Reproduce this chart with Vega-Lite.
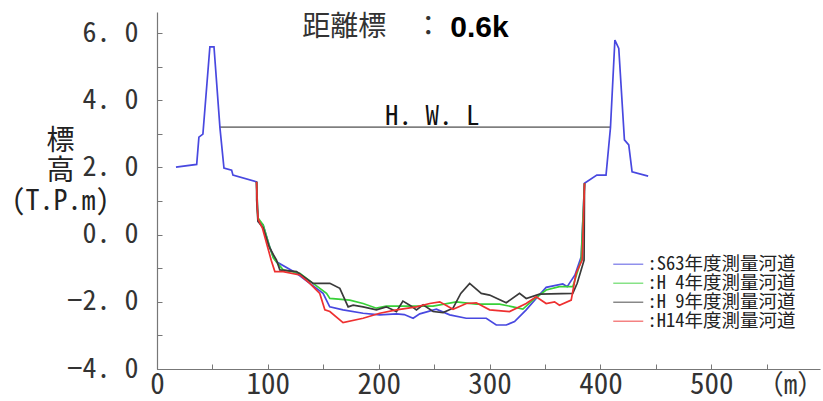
{
  "$schema": "https://vega.github.io/schema/vega-lite/v6.json",
  "width": 663,
  "height": 357,
  "autosize": {"type": "none"},
  "padding": {"left": 157, "top": 12, "right": 3, "bottom": 32},
  "background": "white",
  "config": {
    "view": {"stroke": null},
    "font": "Noto Sans Mono CJK JP, Noto Sans CJK JP",
    "legend": {
      "orient": "none", "legendX": 462, "legendY": 243, "title": null,
      "symbolType": "M-2,0H2", "symbolSize": 225, "symbolStrokeWidth": 1.5, "symbolOpacity": 0.6,
      "labelFont": "Noto Sans Mono CJK JP, Noto Sans CJK JP", "labelFontSize": 18.5, "labelColor": "#222",
      "labelOffset": 10, "rowPadding": -1.5, "labelLimit": 300
    }
  },
  "datasets": {
    "sections": [
      {"s": "S63年度測量河道", "x": 17.1, "y": 2.01},
      {"s": "S63年度測量河道", "x": 35.8, "y": 2.09},
      {"s": "S63年度測量河道", "x": 37.8, "y": 2.90},
      {"s": "S63年度測量河道", "x": 41.4, "y": 2.99},
      {"s": "S63年度測量河道", "x": 47.7, "y": 5.59},
      {"s": "S63年度測量河道", "x": 51.4, "y": 5.59},
      {"s": "S63年度測量河道", "x": 56.8, "y": 3.17},
      {"s": "S63年度測量河道", "x": 60.4, "y": 1.98},
      {"s": "S63年度測量河道", "x": 67.3, "y": 1.92},
      {"s": "S63年度測量河道", "x": 68.5, "y": 1.77},
      {"s": "S63年度測量河道", "x": 89.8, "y": 1.57},
      {"s": "S63年度測量河道", "x": 90.5, "y": 0.9},
      {"s": "S63年度測量河道", "x": 91.5, "y": 0.38},
      {"s": "S63年度測量河道", "x": 95.7, "y": 0.29},
      {"s": "S63年度測量河道", "x": 101, "y": -0.3},
      {"s": "S63年度測量河道", "x": 104.8, "y": -0.66},
      {"s": "S63年度測量河道", "x": 107.8, "y": -0.81},
      {"s": "S63年度測量河道", "x": 125.9, "y": -1.15},
      {"s": "S63年度測量河道", "x": 137.8, "y": -1.45},
      {"s": "S63年度測量河道", "x": 149.8, "y": -1.75},
      {"s": "S63年度測量河道", "x": 155.8, "y": -2.15},
      {"s": "S63年度測量河道", "x": 167.8, "y": -2.24},
      {"s": "S63年度測量河道", "x": 185.9, "y": -2.34},
      {"s": "S63年度測量河道", "x": 200.9, "y": -2.39},
      {"s": "S63年度測量河道", "x": 216, "y": -2.36},
      {"s": "S63年度測量河道", "x": 223, "y": -2.38},
      {"s": "S63年度測量河道", "x": 231, "y": -2.49},
      {"s": "S63年度測量河道", "x": 237, "y": -2.36},
      {"s": "S63年度測量河道", "x": 252, "y": -2.22},
      {"s": "S63年度測量河道", "x": 264, "y": -2.39},
      {"s": "S63年度測量河道", "x": 278.9, "y": -2.49},
      {"s": "S63年度測量河道", "x": 297, "y": -2.49},
      {"s": "S63年度測量河道", "x": 306, "y": -2.69},
      {"s": "S63年度測量河道", "x": 315, "y": -2.69},
      {"s": "S63年度測量河道", "x": 322.5, "y": -2.59},
      {"s": "S63年度測量河道", "x": 333, "y": -2.24},
      {"s": "S63年度測量河道", "x": 342, "y": -1.90},
      {"s": "S63年度測量河道", "x": 351, "y": -1.57},
      {"s": "S63年度測量河道", "x": 366, "y": -1.47},
      {"s": "S63年度測量河道", "x": 370, "y": -1.55},
      {"s": "S63年度測量河道", "x": 377, "y": -1.2},
      {"s": "S63年度測量河道", "x": 382.6, "y": -0.66},
      {"s": "S63年度測量河道", "x": 385.6, "y": 1.53},
      {"s": "S63年度測量河道", "x": 396.7, "y": 1.77},
      {"s": "S63年度測量河道", "x": 405, "y": 1.77},
      {"s": "S63年度測量河道", "x": 409, "y": 3.18},
      {"s": "S63年度測量河道", "x": 413, "y": 5.79},
      {"s": "S63年度測量河道", "x": 416.5, "y": 5.54},
      {"s": "S63年度測量河道", "x": 421.6, "y": 2.82},
      {"s": "S63年度測量河道", "x": 425.5, "y": 2.67},
      {"s": "S63年度測量河道", "x": 428.5, "y": 1.87},
      {"s": "S63年度測量河道", "x": 443, "y": 1.74},

      {"s": "H 4年度測量河道", "x": 89.8, "y": 1.57},
      {"s": "H 4年度測量河道", "x": 91, "y": 0.5},
      {"s": "H 4年度測量河道", "x": 95.7, "y": 0.29},
      {"s": "H 4年度測量河道", "x": 101, "y": -0.3},
      {"s": "H 4年度測量河道", "x": 105, "y": -0.7},
      {"s": "H 4年度測量河道", "x": 113.8, "y": -1.05},
      {"s": "H 4年度測量河道", "x": 128.8, "y": -1.15},
      {"s": "H 4年度測量河道", "x": 140.8, "y": -1.45},
      {"s": "H 4年度測量河道", "x": 152.9, "y": -1.75},
      {"s": "H 4年度測量河道", "x": 155.9, "y": -1.90},
      {"s": "H 4年度測量河道", "x": 173.9, "y": -1.95},
      {"s": "H 4年度測量河道", "x": 185.9, "y": -2.05},
      {"s": "H 4年度測量河道", "x": 197.9, "y": -2.19},
      {"s": "H 4年度測量河道", "x": 206.8, "y": -2.13},
      {"s": "H 4年度測量河道", "x": 234, "y": -2.13},
      {"s": "H 4年度測量河道", "x": 249, "y": -2.13},
      {"s": "H 4年度測量河道", "x": 270, "y": -2.00},
      {"s": "H 4年度測量河道", "x": 288, "y": -2.07},
      {"s": "H 4年度測量河道", "x": 309, "y": -2.07},
      {"s": "H 4年度測量河道", "x": 321, "y": -2.15},
      {"s": "H 4年度測量河道", "x": 330, "y": -2.22},
      {"s": "H 4年度測量河道", "x": 339, "y": -1.95},
      {"s": "H 4年度測量河道", "x": 351, "y": -1.65},
      {"s": "H 4年度測量河道", "x": 363, "y": -1.55},
      {"s": "H 4年度測量河道", "x": 375, "y": -1.55},
      {"s": "H 4年度測量河道", "x": 382.6, "y": -0.76},
      {"s": "H 4年度測量河道", "x": 385.6, "y": 1.53},

      {"s": "H 9年度測量河道", "x": 89.8, "y": 1.57},
      {"s": "H 9年度測量河道", "x": 89.9, "y": 1.03},
      {"s": "H 9年度測量河道", "x": 91, "y": 0.4},
      {"s": "H 9年度測量河道", "x": 95.7, "y": 0.2},
      {"s": "H 9年度測量河道", "x": 101, "y": -0.35},
      {"s": "H 9年度測量河道", "x": 105, "y": -0.6},
      {"s": "H 9年度測量河道", "x": 107.8, "y": -0.76},
      {"s": "H 9年度測量河道", "x": 110.8, "y": -1.05},
      {"s": "H 9年度測量河道", "x": 125.9, "y": -1.10},
      {"s": "H 9年度測量河道", "x": 140.8, "y": -1.45},
      {"s": "H 9年度測量河道", "x": 155.9, "y": -1.45},
      {"s": "H 9年度測量河道", "x": 164.9, "y": -1.60},
      {"s": "H 9年度測量河道", "x": 172.4, "y": -2.15},
      {"s": "H 9年度測量河道", "x": 176.9, "y": -2.10},
      {"s": "H 9年度測量河道", "x": 185.9, "y": -2.15},
      {"s": "H 9年度測量河道", "x": 197.9, "y": -2.24},
      {"s": "H 9年度測量河道", "x": 206.8, "y": -2.15},
      {"s": "H 9年度測量河道", "x": 216, "y": -2.29},
      {"s": "H 9年度測量河道", "x": 221.8, "y": -1.98},
      {"s": "H 9年度測量河道", "x": 228, "y": -2.10},
      {"s": "H 9年度測量河道", "x": 234, "y": -2.24},
      {"s": "H 9年度測量河道", "x": 240, "y": -2.09},
      {"s": "H 9年度測量河道", "x": 249, "y": -2.29},
      {"s": "H 9年度測量河道", "x": 258, "y": -2.32},
      {"s": "H 9年度測量河道", "x": 267, "y": -2.19},
      {"s": "H 9年度測量河道", "x": 274, "y": -1.75},
      {"s": "H 9年度測量河道", "x": 282, "y": -1.45},
      {"s": "H 9年度測量河道", "x": 292.5, "y": -1.75},
      {"s": "H 9年度測量河道", "x": 300, "y": -1.80},
      {"s": "H 9年度測量河道", "x": 315, "y": -2.03},
      {"s": "H 9年度測量河道", "x": 327, "y": -1.75},
      {"s": "H 9年度測量河道", "x": 333, "y": -1.90},
      {"s": "H 9年度測量河道", "x": 345, "y": -1.77},
      {"s": "H 9年度測量河道", "x": 375, "y": -1.75},
      {"s": "H 9年度測量河道", "x": 379, "y": -1.45},
      {"s": "H 9年度測量河道", "x": 385.2, "y": -0.76},
      {"s": "H 9年度測量河道", "x": 385.6, "y": 1.53},

      {"s": "H14年度測量河道", "x": 89.8, "y": 1.57},
      {"s": "H14年度測量河道", "x": 90.5, "y": 0.8},
      {"s": "H14年度測量河道", "x": 91.3, "y": 0.45},
      {"s": "H14年度測量河道", "x": 95, "y": 0.2},
      {"s": "H14年度測量河道", "x": 100, "y": -0.4},
      {"s": "H14年度測量河道", "x": 103, "y": -0.76},
      {"s": "H14年度測量河道", "x": 106.3, "y": -1.10},
      {"s": "H14年度測量河道", "x": 113.8, "y": -1.10},
      {"s": "H14年度測量河道", "x": 128.8, "y": -1.20},
      {"s": "H14年度測量河道", "x": 137.8, "y": -1.45},
      {"s": "H14年度測量河道", "x": 146.8, "y": -1.75},
      {"s": "H14年度測量河道", "x": 151.4, "y": -2.24},
      {"s": "H14年度測量河道", "x": 155.9, "y": -2.29},
      {"s": "H14年度測量河道", "x": 167.8, "y": -2.62},
      {"s": "H14年度測量河道", "x": 185.9, "y": -2.49},
      {"s": "H14年度測量河道", "x": 200.9, "y": -2.34},
      {"s": "H14年度測量河道", "x": 216, "y": -2.24},
      {"s": "H14年度測量河道", "x": 234, "y": -2.15},
      {"s": "H14年度測量河道", "x": 246, "y": -2.05},
      {"s": "H14年度測量河道", "x": 255, "y": -2.00},
      {"s": "H14年度測量河道", "x": 267, "y": -2.22},
      {"s": "H14年度測量河道", "x": 279, "y": -2.05},
      {"s": "H14年度測量河道", "x": 288, "y": -2.03},
      {"s": "H14年度測量河道", "x": 300, "y": -2.24},
      {"s": "H14年度測量河道", "x": 318, "y": -2.29},
      {"s": "H14年度測量河道", "x": 333, "y": -2.05},
      {"s": "H14年度測量河道", "x": 342, "y": -1.85},
      {"s": "H14年度測量河道", "x": 351, "y": -2.05},
      {"s": "H14年度測量河道", "x": 358.6, "y": -2.00},
      {"s": "H14年度測量河道", "x": 363, "y": -2.10},
      {"s": "H14年度測量河道", "x": 373.6, "y": -1.95},
      {"s": "H14年度測量河道", "x": 378, "y": -1.15},
      {"s": "H14年度測量河道", "x": 383.5, "y": -0.76},
      {"s": "H14年度測量河道", "x": 385.6, "y": 1.53}
    ],
    "hwl": [
      {"x": 56.8, "y": 3.2},
      {"x": 409, "y": 3.2}
    ]
  },
  "encoding": {
    "x": {
      "field": "x", "type": "quantitative",
      "scale": {"domain": [0, 598], "nice": false, "zero": false},
      "axis": {
        "values": [0, 50, 100, 150, 200, 250, 300, 350, 400, 450, 500, 550],
        "labelExpr": "datum.value % 100 == 0 ? format(datum.value, 'd') : ''",
        "grid": false, "tickSize": -5, "labelFlush": false,
        "domainColor": "#777", "tickColor": "#777", "domainWidth": 1.2,
        "labelFontSize": 29, "labelColor": "#333", "labelPadding": 29, "labelBaseline": "alphabetic",
        "labelFont": "Noto Sans Mono CJK JP, Noto Sans CJK JP",
        "title": "（m）", "titleX": 633, "titleY": 24, "titleAlign": "center", "titleBaseline": "alphabetic",
        "titleFontSize": 27, "titleFontWeight": "normal", "titleColor": "#333",
        "titleFont": "Noto Sans Mono CJK JP, Noto Sans CJK JP"
      }
    },
    "y": {
      "field": "y", "type": "quantitative",
      "scale": {"domain": [-4, 6.625], "nice": false, "zero": false},
      "axis": {
        "values": [-4, -3, -2, -1, 0, 1, 2, 3, 4, 5, 6],
        "labelExpr": "datum.value % 2 == 0 ? replace(format(datum.value, '.1f'), '.', '. ') : ''",
        "grid": false, "tickSize": -5,
        "domainColor": "#777", "tickColor": "#777", "domainWidth": 1.2,
        "labelFontSize": 28, "labelColor": "#333", "labelPadding": 24,
        "labelFont": "Noto Sans Mono CJK JP, Noto Sans CJK JP",
        "title": ["標", "高", "(T.P.m)"], "titleAngle": 0, "titleX": -97, "titleY": 115,
        "titleAlign": "center", "titleBaseline": "top", "titleFontSize": 28, "titleLineHeight": 30,
        "titleFontWeight": "normal", "titleColor": "#222",
        "titleFont": "Noto Sans Mono CJK JP, Noto Sans CJK JP"
      }
    }
  },
  "layer": [
    {
      "data": {"name": "hwl"},
      "mark": {"type": "line", "color": "#222", "strokeWidth": 1}
    },
    {
      "data": {"name": "sections"},
      "mark": {"type": "line", "strokeWidth": 1.7},
      "encoding": {
        "color": {
          "field": "s", "type": "nominal",
          "scale": {
            "domain": ["S63年度測量河道", "H 4年度測量河道", "H 9年度測量河道", "H14年度測量河道"],
            "range": ["#4848e0", "#38d038", "#3a3a3a", "#ee3030"]
          },
          "legend": {"labelExpr": "':' + datum.label"}
        }
      }
    },
    {
      "data": {"values": [{"x": 248.3, "y": 3.27}]},
      "mark": {"type": "text", "text": "H. W. L", "align": "center", "baseline": "alphabetic", "fontSize": 27, "color": "#111", "font": "Noto Sans Mono CJK JP, Noto Sans CJK JP"}
    },
    {
      "data": {"values": [{"x": 131, "y": 6.15}]},
      "mark": {"type": "text", "text": "距離標　：", "align": "left", "baseline": "middle", "fontSize": 28, "color": "#333", "font": "Noto Sans Mono CJK JP, Noto Sans CJK JP"}
    },
    {
      "data": {"values": [{"x": 264.5, "y": 6.15}]},
      "mark": {"type": "text", "text": "0.6k", "align": "left", "baseline": "middle", "fontSize": 30, "fontWeight": "bold", "color": "#000", "font": "Liberation Sans"}
    }
  ]
}
